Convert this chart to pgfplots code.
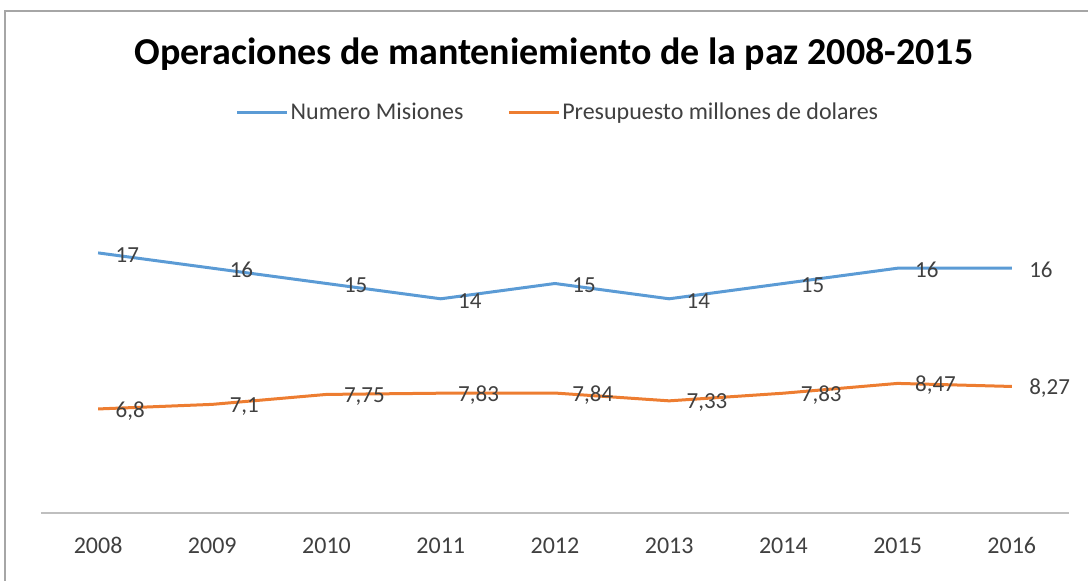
\documentclass[border=0pt]{standalone}
\usepackage{fontspec}
\setmainfont{Carlito}
\usepackage{pgfplots}
\pgfplotsset{compat=1.18}
\definecolor{misblue}{HTML}{5B9BD5}
\definecolor{presorange}{HTML}{ED7D31}
\definecolor{txtgray}{HTML}{404040}
\definecolor{framegray}{HTML}{A6A6A6}
\definecolor{axisgray}{HTML}{BFBFBF}

\pgfplotstableread{
x val
0 17
1 16
2 15
3 14
4 15
5 14
6 15
7 16
8 16
}\misiones
\pgfplotstableread{
x val
0 6.8
1 7.1
2 7.75
3 7.83
4 7.84
5 7.33
6 7.83
7 8.47
8 8.27
}\presupuesto

\begin{document}
\begin{tikzpicture}
\useasboundingbox (0,0) rectangle (1088pt,581pt);
% chart frame (cut off at right and bottom)
\draw[framegray, line width=1.5pt] (5pt,0) -- (5pt,570pt) -- (1088pt,570pt);
\node[font=\bfseries\fontsize{38}{44}\selectfont, text=black] at (554pt,527pt)
  {Operaciones de manteniemiento de la paz 2008-2015};
\begin{axis}[
  at={(41pt,68pt)}, anchor=south west,
  scale only axis, width=1028pt, height=306pt,
  xmin=-0.5, xmax=8.5, ymin=0, ymax=20,
  axis x line*=bottom, hide y axis,
  x axis line style={-, draw=axisgray, line width=1.5pt},
  xtick=data, major tick length=0pt,
  xticklabels={2008,2009,2010,2011,2012,2013,2014,2015,2016},
  xticklabel style={font=\fontsize{24}{28}\selectfont, text=txtgray, yshift=-21pt},
  /pgf/number format/assume math mode=true,
  /pgf/number format/use comma,
  nodes near coords,
  nodes near coords style={anchor=west, xshift=14pt, yshift=-2pt, inner sep=2pt,
    font=\fontsize{23}{27}\selectfont, text=txtgray},
  clip=false,
  legend columns=2,
  legend style={at={(0.503,1.31)}, anchor=center, draw=none, fill=none,
    font=\fontsize{24}{28}\selectfont, text=txtgray,
    /tikz/every even column/.append style={column sep=42pt}},
  legend image code/.code={\draw[#1, line width=3pt] (-0.05cm,0cm) -- (1.7cm,0cm);},
]
\addplot[misblue, line width=3pt, no marks] table[x=x, y=val] {\misiones};
\addlegendentry{Numero Misiones}
\addplot[presorange, line width=3pt, no marks] table[x=x, y=val] {\presupuesto};
\addlegendentry{Presupuesto millones de dolares}
\end{axis}
\end{tikzpicture}
\end{document}
